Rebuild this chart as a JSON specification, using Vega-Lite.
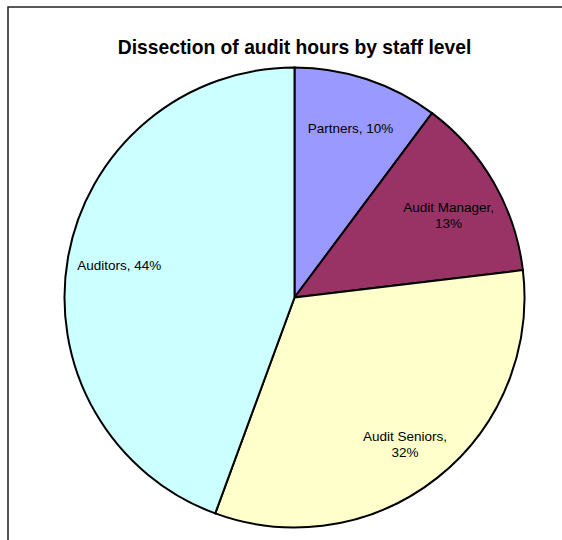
{
  "$schema": "https://vega.github.io/schema/vega-lite/v6.json",
  "autosize": {"type": "none"},
  "padding": {"left": 8, "top": 7, "right": 0, "bottom": 0},
  "width": 573,
  "height": 581,
  "background": "white",
  "view": {"stroke": "#222", "strokeWidth": 1.5, "fill": "white"},
  "config": {"view": {"stroke": "#222", "strokeWidth": 1.5}},
  "title": {
    "text": "Dissection of audit hours by staff level",
    "font": "Liberation Sans",
    "fontSize": 19.3,
    "fontWeight": "bold",
    "color": "#000",
    "anchor": "middle",
    "baseline": "alphabetic",
    "offset": 0,
    "dy": 66
  },
  "data": {
    "values": [
      {"staff": "Partners", "share": 10.2, "rank": 1, "label": "Partners, 10%"},
      {"staff": "Audit Manager", "share": 12.9, "rank": 2, "label": "Audit Manager,\n13%"},
      {"staff": "Audit Seniors", "share": 32.5, "rank": 3, "label": "Audit Seniors,\n32%"},
      {"staff": "Auditors", "share": 44.4, "rank": 4, "label": "Auditors, 44%"}
    ]
  },
  "encoding": {
    "theta": {"field": "share", "type": "quantitative", "stack": true},
    "order": {"field": "rank", "type": "quantitative"}
  },
  "layer": [
    {
      "mark": {"type": "arc", "outerRadius": 230, "stroke": "#000", "strokeWidth": 2},
      "encoding": {
        "color": {
          "field": "staff",
          "type": "nominal",
          "scale": {
            "domain": ["Partners", "Audit Manager", "Audit Seniors", "Auditors"],
            "range": ["#9999FF", "#993366", "#FFFFCC", "#CCFFFF"]
          },
          "legend": null
        }
      }
    },
    {
      "mark": {"type": "text", "radius": 178, "font": "Liberation Sans", "fontSize": 13.5, "color": "#000", "lineBreak": "\n", "align": "center", "baseline": "middle", "lineHeight": 16},
      "encoding": {
        "text": {"field": "label", "type": "nominal"}
      }
    }
  ]
}
